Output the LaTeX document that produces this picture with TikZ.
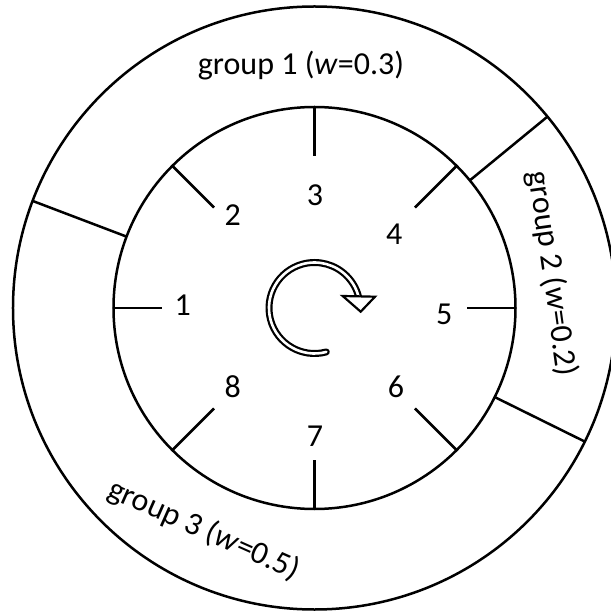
\documentclass[tikz,border=0pt]{standalone}
\usepackage{fontspec}
\setmainfont{Carlito}
\begin{document}
\begin{tikzpicture}[x=1pt,y=1pt,
  ring/.style={line width=2.5pt},
  lbl/.style={font=\fontsize{32}{38}\selectfont, inner sep=0pt},
]
\useasboundingbox (-314.5,-307) rectangle (295.5,308);
\coordinate (c) at (0,0);
% circles
\draw[ring] (c) circle[radius=201];
\draw[ring] (c) circle[radius=301.5];
% ticks on the inner circle
\foreach \a/\r in {0/152,45/142,90/152,135/142,180/152,225/142,270/152,315/142}{
  \coordinate (ti\a) at (\a:201);
  \coordinate (to\a) at (\a:\r);
  \draw[ring] (ti\a) -- (to\a);
}
% group separators
\foreach \a/\n in {159.2/a,39.4/b,-26.3/c}{
  \coordinate (si\n) at (\a:201);
  \coordinate (so\n) at (\a:301.5);
  \draw[ring] (si\n) -- (so\n);
}
% number labels
\node[lbl] (n1) at (-131.8,3) {1};
\node[lbl] (n2) at (-81.8,93) {2};
\node[lbl] (n3) at (0.5,113) {3};
\node[lbl] (n4) at (79.8,74) {4};
\node[lbl] (n5) at (129.8,-6) {5};
\node[lbl] (n6) at (81.5,-78.7) {6};
\node[lbl] (n7) at (0.5,-128) {7};
\node[lbl] (n8) at (-81.8,-78.7) {8};
% group labels
\node[lbl] (g1) at (-13.5,242.5) {group 1 (\textit{w}=0.3)};
\node[lbl, rotate=-82] (g2) at (237.6,34.2) {group 2 (\textit{w}=0.2)};
\node[lbl, rotate=-24] (g3) at (-110.5,-222) {group 3 (\textit{w}=0.5)};
% rotation arrow
\coordinate (as) at (-75:45.5);
\draw[line width=7pt, line cap=round] (as) arc[start angle=-75, end angle=-350, radius=45.5];
\draw[white, line width=2.6pt, line cap=round] (as) arc[start angle=-75, end angle=-350, radius=45.5];
\coordinate (h1) at (28.2,12);
\coordinate (h2) at (60.5,11.3);
\coordinate (h3) at (46.2,-3.7);
\draw[line width=2.2pt, fill=white, line join=miter] (h1) -- (h2) -- (h3) -- cycle;
\end{tikzpicture}
\end{document}
